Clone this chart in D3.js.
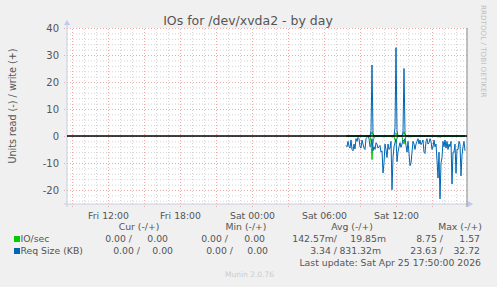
<!DOCTYPE html>
<html>
<head>
    <meta charset="utf-8">
    <title>IOs for /dev/xvda2 - by day</title>
    <script src="https://d3js.org/d3.v7.min.js"></script>
</head>
<style>
    body { margin: 0; background: #f0f0f0; }
    svg text { font-family: "DejaVu Sans", sans-serif; fill: #555; }
</style>
<body>
    <svg class='chart'></svg>
</body>
<script>
    // 5 minute samples starting Sat 07:50, read values are plotted below zero
    var sampleStart = new Date(2026, 3, 25, 7, 50)
    var reqRead = [3.5, 4, 2, 3.8, 4.5, 1.5, 5, 5.5, 3, 4.8,
        1, 2, 0.5, 1, 4, 4.5, 1.5, 3, 4.5, 5,
        1, 0.5, 0, 1, 4, 3.5, 1, 5.5, 4, 5,
        2.5, 3, 4.5, 4, 3.5, 6, 5.5, 13.7, 10, 3,
        5, 8, 3, 5, 4.5, 2, 19.9, 8, 4, 2.5,
        1, 9.5, 6, 4, 2.5, 4.2, 3, 1.5, 2, 1,
        3.5, 6, 2, 6.5, 11, 10, 6, 2, 3, 5,
        3, 2, 1, 3, 1.5, 3.2, 2.5, 1.5, 6, 6.5,
        2, 1, 3, 2.5, 1, 2, 5, 4, 1.5, 4,
        3, 9, 15.6, 6, 23.3, 10, 8, 2, 4, 1.5,
        4.5, 2, 5, 3, 4, 2, 17.8, 6, 6, 3,
        13.8, 5, 5, 2, 3, 14.8, 7, 4, 2, 5.5]
    var reqWrite = [0, 0, 0, 0, 0, 0, 0, 0, 0, 0,
        0, 0, 0, 0, 0, 0, 0, 0, 0, 0,
        0, 0, 0, 0, 0, 2, 26.3, 1, 0, 0,
        0, 0, 0, 0, 0, 0, 0, 0, 0, 0,
        0, 0, 0, 0, 0, 0, 0, 0, 0, 3,
        32.7, 2, 0, 0, 0, 0, 0, 1.5, 25, 1,
        0, 0, 0, 0, 0, 0, 0, 0, 0, 0,
        0, 0, 0, 0, 0, 0, 0, 0, 0, 0,
        0, 0, 0, 0, 0, 0, 0, 0, 0, 0,
        0, 0, 0, 0, 0, 0, 0, 0, 0, 0,
        0, 0, 0, 0, 0, 0, 0, 0, 0, 0,
        0, 0, 0, 0, 0, 0, 0, 0, 0, 0]
    var ioRead = [0.1, 0.2, 0.1, 0.1, 0.2, 0.1, 0.2, 0.2, 0.1, 0.2,
        0.1, 0.1, 0, 0.1, 0.1, 0.2, 0.1, 0.1, 0.2, 0.2,
        0.1, 0, 0, 0.1, 0.1, 2, 8.75, 3, 0.2, 0.5,
        0.1, 0.1, 0.2, 0.1, 0.1, 0.2, 0.2, 0.3, 0.3, 0.1,
        0.2, 0.3, 0.1, 0.2, 0.2, 0.1, 0.4, 0.3, 0.1, 1.5,
        2.5, 1, 0.2, 0.1, 0.1, 0.2, 0.1, 2, 3, 1.5,
        0.1, 0.2, 0.1, 0.2, 0.3, 0.3, 0.2, 0.1, 0.1, 0.2,
        0.1, 0.1, 0.1, 0.1, 0.1, 0.1, 0.1, 0.1, 0.2, 0.2,
        0.1, 0.1, 0.1, 0.1, 0.1, 0.1, 0.2, 0.1, 0.1, 0.1,
        0.1, 0.3, 0.4, 0.2, 0.5, 0.3, 0.2, 0.1, 0.1, 0.1,
        0.1, 0.1, 0.2, 0.1, 0.1, 0.1, 0.4, 0.2, 0.2, 0.1,
        0.3, 0.2, 0.2, 0.1, 0.1, 0.3, 0.2, 0.1, 0.1, 0.2]
    var ioWrite = [0, 0, 0, 0, 0, 0, 0, 0, 0, 0,
        0, 0, 0, 0, 0, 0, 0, 0, 0, 0,
        0, 0, 0, 0, 0, 0.5, 1.5, 0.3, 0, 0,
        0, 0, 0, 0, 0, 0, 0, 0, 0, 0,
        0, 0, 0, 0, 0, 0, 0, 0, 0, 0.4,
        1.2, 0.3, 0, 0, 0, 0, 0, 0.5, 1.57, 0.4,
        0, 0, 0, 0, 0, 0, 0, 0, 0, 0,
        0, 0, 0, 0, 0, 0, 0, 0, 0, 0,
        0, 0, 0, 0, 0, 0, 0, 0, 0, 0,
        0, 0, 0, 0, 0, 0, 0, 0, 0, 0,
        0, 0, 0, 0, 0, 0, 0, 0, 0, 0,
        0, 0, 0, 0, 0, 0, 0, 0, 0, 0]

    var legendRows = ["IO/sec", "Req Size (KB)"]
    var legendColors = ["#00cc00", "#0066b3"]
    var legendHeaders = ["Cur (-/+)", "Min (-/+)", "Avg (-/+)", "Max (-/+)"]
    var legendValues = [
        ["0.00 /", "0.00", "0.00 /", "0.00", "142.57m/", "19.85m", "8.75 /", "1.57"],
        ["0.00 /", "0.00", "0.00 /", "0.00", "3.34 /", "831.32m", "23.63 /", "32.72"]
    ]
    var yLabels = [40, 30, 20, 10, 0, -10, -20]

    var width = 497, height = 287
    var pLeft = 67, pRight = 467, pTop = 28, pBottom = 204

    var svg = d3.select('.chart')
        .attr('width', width)
        .attr('height', height)
        .style('display', 'block')

    svg.append('rect').attr('width', width).attr('height', height).attr('fill', '#f0f0f0')
    svg.append('rect')
        .attr('x', pLeft).attr('y', pTop)
        .attr('width', pRight - pLeft).attr('height', pBottom - pTop)
        .attr('fill', '#ffffff')

    var xChart = d3.scaleTime()
        .domain([new Date(2026, 3, 24, 8, 35), new Date(2026, 3, 25, 17, 55)])
        .range([pLeft, pRight])
    var yChart = d3.scaleLinear()
        .domain([-25.2, 40])
        .range([pBottom, pTop])

    // minor grid
    svg.append('g')
        .attr('transform', `translate(0,${pBottom})`)
        .call(d3.axisBottom(xChart).ticks(d3.timeHour.every(1)).tickSize(-(pBottom - pTop)).tickFormat(''))
        .call(g => g.select('.domain').remove())
        .call(g => g.selectAll('line').attr('stroke', '#d4d4d4').attr('stroke-dasharray', '1,2'))
    svg.append('g')
        .attr('transform', `translate(${pLeft},0)`)
        .call(d3.axisLeft(yChart).tickValues(d3.range(-24, 41, 2)).tickSize(-(pRight - pLeft)).tickFormat(''))
        .call(g => g.select('.domain').remove())
        .call(g => g.selectAll('line').attr('stroke', '#d4d4d4').attr('stroke-dasharray', '1,2'))

    // major grid
    svg.append('g')
        .attr('transform', `translate(0,${pBottom + 3})`)
        .call(d3.axisBottom(xChart).ticks(d3.timeHour.every(3)).tickSize(-(pBottom - pTop + 3)).tickFormat(''))
        .call(g => g.select('.domain').remove())
        .call(g => g.selectAll('line').attr('stroke', '#eba9a9').attr('stroke-dasharray', '1,2'))
    svg.append('g')
        .attr('transform', `translate(${pLeft - 3},0)`)
        .call(d3.axisLeft(yChart).tickValues(yLabels).tickSize(-(pRight - pLeft + 3)).tickFormat(''))
        .call(g => g.select('.domain').remove())
        .call(g => g.selectAll('line').attr('stroke', '#eba9a9').attr('stroke-dasharray', '1,2'))

    // tick labels
    svg.append('g')
        .attr('transform', `translate(0,${pBottom})`)
        .call(d3.axisBottom(xChart).ticks(d3.timeHour.every(6)).tickSize(0).tickPadding(8)
            .tickFormat(d3.timeFormat('%a %H:%M')))
        .call(g => g.select('.domain').remove())
        .call(g => g.selectAll('text').attr('font-size', '9.3px').attr('fill', '#555'))
    svg.append('g')
        .attr('transform', `translate(${pLeft},0)`)
        .call(d3.axisLeft(yChart).tickValues(yLabels).tickSize(0).tickPadding(8).tickFormat(d => String(d)))
        .call(g => g.select('.domain').remove())
        .call(g => g.selectAll('text').attr('font-size', '10px').attr('fill', '#555'))

    // axes lines with arrows
    svg.append('line').attr('x1', pLeft).attr('x2', pLeft).attr('y1', pTop - 4).attr('y2', pBottom + 3)
        .attr('stroke', '#c8cce0')
    svg.append('line').attr('x1', pLeft - 3).attr('x2', pRight + 2).attr('y1', pBottom).attr('y2', pBottom)
        .attr('stroke', '#c8cce0')
    svg.append('path').attr('d', `M${pLeft - 3},${pTop - 3}L${pLeft + 3},${pTop - 3}L${pLeft},${pTop - 8}Z`).attr('fill', '#c0c8f0')
    svg.append('path').attr('d', `M${pRight + 1},${pBottom - 3}L${pRight + 1},${pBottom + 3}L${pRight + 6},${pBottom}Z`).attr('fill', '#c0c8f0')
    svg.append('line').attr('x1', pRight).attr('x2', pRight).attr('y1', pTop).attr('y2', pBottom + 3)
        .attr('stroke', '#888')

    var timeAt = i => new Date(sampleStart.getTime() + i * 5 * 60 * 1000)
    var line = d3.line().x((d, i) => xChart(timeAt(i))).y(d => yChart(d))
    var series = [
        [ioRead.map(v => -v), '#00cc00'],
        [ioWrite, '#00cc00'],
        [reqRead.map(v => -v), '#0066b3'],
        [reqWrite, '#0066b3']
    ]
    series.forEach(s => {
        svg.append('path')
            .attr('d', line(s[0]))
            .attr('fill', 'none')
            .attr('stroke', s[1])
            .attr('stroke-width', 1)
    })

    // zero rule on top
    svg.append('line').attr('x1', pLeft).attr('x2', pRight)
        .attr('y1', yChart(0)).attr('y2', yChart(0))
        .attr('stroke', '#000').attr('stroke-width', 1.5)

    // title and side texts
    svg.append('text').attr('x', 248).attr('y', 25).attr('text-anchor', 'middle')
        .attr('font-size', '12.5px').text('IOs for /dev/xvda2 - by day')
    svg.append('text').attr('transform', 'translate(16,106) rotate(-90)').attr('text-anchor', 'middle')
        .attr('font-size', '9.6px').text('Units read (-) / write (+)')
    svg.append('text').attr('transform', 'translate(481,5) rotate(90)').attr('text-anchor', 'start')
        .attr('font-size', '7.2px').style('fill', '#c0c0c0').text('RRDTOOL / TOBI OETIKER')

    // legend
    var headerX = [139, 246, 352, 460]
    legendHeaders.forEach((h, i) => {
        svg.append('text').attr('x', headerX[i]).attr('y', 230).attr('text-anchor', 'middle')
            .attr('font-size', '9.3px').text(h)
    })
    var valueEnds = [
        [132, 168, 228, 265, 337, 386, 443, 480],
        [140, 173, 233, 268, 337, 381, 443, 480]
    ]
    legendRows.forEach((r, i) => {
        var y = 242 + i * 12
        svg.append('rect').attr('x', 14).attr('y', y - 6).attr('width', 6).attr('height', 6)
            .attr('fill', legendColors[i])
        svg.append('text').attr('x', 20.5).attr('y', y).attr('font-size', '9.3px').text(r)
        legendValues[i].forEach((v, j) => {
            svg.append('text').attr('x', valueEnds[i][j]).attr('y', y).attr('text-anchor', 'end')
                .attr('font-size', '9.3px').text(v)
        })
    })
    svg.append('text').attr('x', 481).attr('y', 266).attr('text-anchor', 'end')
        .attr('font-size', '9.3px').text('Last update: Sat Apr 25 17:50:00 2026')
    svg.append('text').attr('x', 225).attr('y', 277)
        .attr('font-size', '7.5px').style('fill', '#cccccc').text('Munin 2.0.76')
</script>
</html>
